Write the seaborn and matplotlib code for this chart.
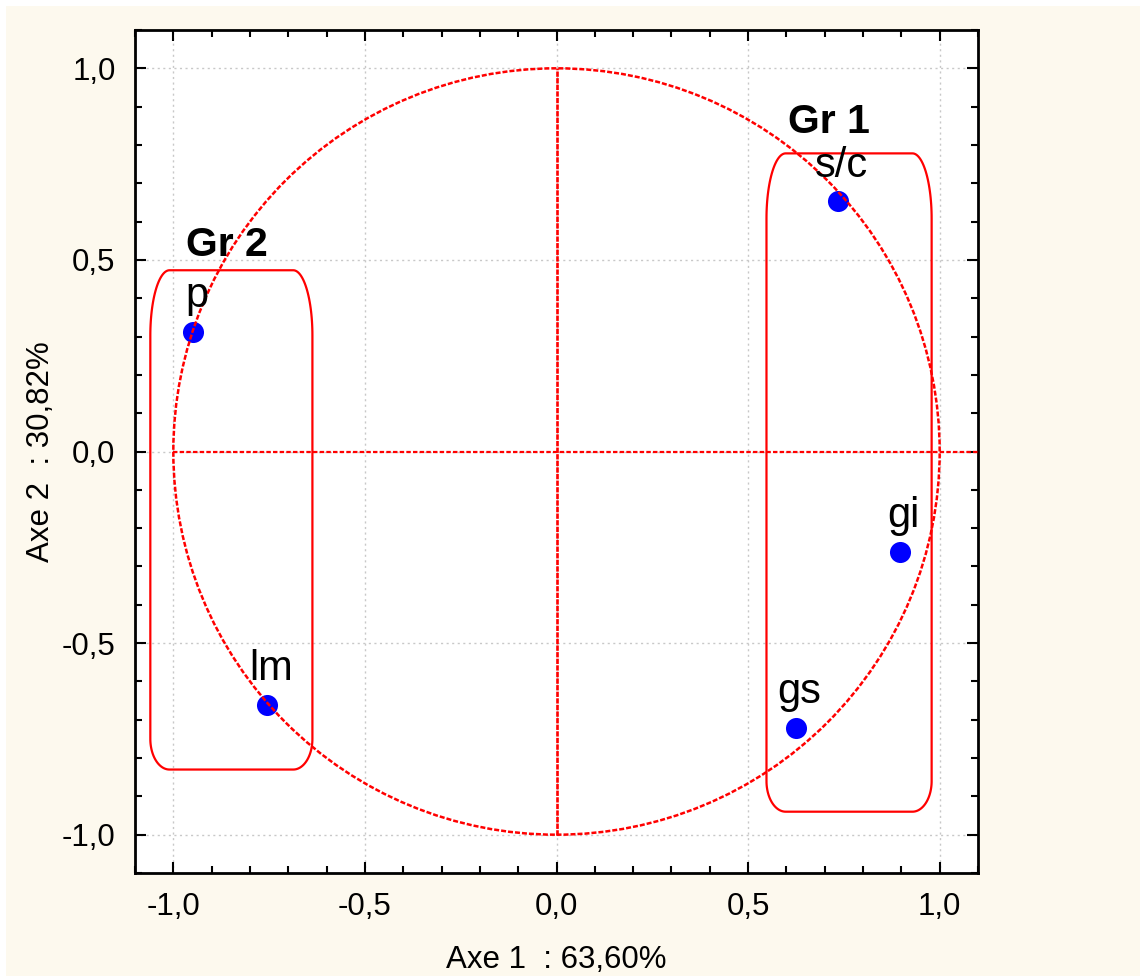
import numpy as np
import pandas as pd
import matplotlib
matplotlib.use("Agg")
import matplotlib.pyplot as plt
import seaborn as sns
from matplotlib.path import Path
from matplotlib.patches import PathPatch, Rectangle, Circle
from matplotlib.ticker import MultipleLocator, FuncFormatter

# ---- data ----
variables = ["p", "lm", "s/c", "gi", "gs"]
axe1 = [-0.948, -0.755, 0.734, 0.896, 0.624]
axe2 = [0.313, -0.661, 0.653, -0.261, -0.721]
groups = ["Gr 2", "Gr 1"]
group_label_x = [-0.86, 0.71]
group_label_y = [0.54, 0.86]
group_box_x = [(-1.06, -0.637), (0.548, 0.979)]
group_box_y = [(-0.830, 0.473), (-0.940, 0.778)]
xlabel = "Axe 1  : 63,60%"
ylabel = "Axe 2  : 30,82%"

df = pd.DataFrame({"var": variables, "x": axe1, "y": axe2})

sns.set_style("ticks")
plt.rcParams["font.family"] = ["Liberation Sans", "DejaVu Sans"]
plt.rcParams["text.color"] = "black"
plt.rcParams["axes.labelcolor"] = "black"
plt.rcParams["xtick.color"] = "black"
plt.rcParams["ytick.color"] = "black"

fig = plt.figure(figsize=(11.4, 9.76), dpi=100)
fig.patch.set_facecolor("white")
fig.patches.append(Rectangle((6 / 1140, 0), 1, 1 - 6 / 976, transform=fig.transFigure,
                             facecolor="#FDF9EE", edgecolor="none", zorder=-10))
ax = fig.add_axes([135 / 1140, 1 - 873 / 976, (978 - 135) / 1140, (873 - 30) / 976])
ax.set_facecolor("white")
ax.set_xlim(-1.1, 1.1)
ax.set_ylim(-1.1, 1.1)

ax.xaxis.set_major_locator(MultipleLocator(0.5))
ax.yaxis.set_major_locator(MultipleLocator(0.5))
ax.xaxis.set_minor_locator(MultipleLocator(0.1))
ax.yaxis.set_minor_locator(MultipleLocator(0.1))
fmt = FuncFormatter(lambda v, p: f"{v:.1f}".replace(".", ",").replace("-0,0", "0,0"))
ax.xaxis.set_major_formatter(fmt)
ax.yaxis.set_major_formatter(fmt)
ax.grid(True, which="major", color="#C8C8C8", linestyle=(0, (1.5, 2.5)), linewidth=1.0, zorder=0)
ax.tick_params(which="both", direction="in", top=True, right=True, width=1.5, colors="black",
               labelsize=22.5)
ax.tick_params(which="major", length=8, pad=14)
ax.tick_params(which="minor", length=5)
for s in ax.spines.values():
    s.set_linewidth(2)
    s.set_color("black")

# circle and axes lines
red = "#FF0000"
ax.add_patch(Circle((0, 0), 1.0, fill=False, edgecolor=red, linestyle=(0, (2, 0.8)),
                    linewidth=1.8, zorder=4))
ax.plot([-1.0, 1.1], [0, 0], color=red, linestyle=(0, (2, 1)), linewidth=1.6, zorder=4)
ax.plot([0, 0], [-1.0, 1.0], color=red, linestyle=(0, (2, 0.5)), linewidth=1.9, zorder=4)

# points
sns.scatterplot(data=df, x="x", y="y", ax=ax, color="#0000FF", s=230, edgecolor="#0000FF",
                linewidth=0, zorder=3)
for v, x, y in zip(variables, axe1, axe2):
    ax.text(x + 0.01, y + 0.04, v, fontsize=30, ha="center", va="bottom", zorder=5)

# group boxes with rounded elliptical corners
def rounded_box(x0, x1, y0, y1, rx, ry_top, ry_bot, n=30):
    t = np.linspace(0, np.pi / 2, n)
    pts = []
    pts += [(x0 + rx - rx * np.sin(a), y0 + ry_bot - ry_bot * np.cos(a)) for a in t[::-1]]
    pts += [(x1 - rx + rx * np.sin(a), y0 + ry_bot - ry_bot * np.cos(a)) for a in t]
    pts += [(x1 - rx + rx * np.sin(a), y1 - ry_top + ry_top * np.cos(a)) for a in t[::-1]]
    pts += [(x0 + rx - rx * np.sin(a), y1 - ry_top + ry_top * np.cos(a)) for a in t]
    pts.append(pts[0])
    return Path(pts)

for (bx0, bx1), (by0, by1) in zip(group_box_x, group_box_y):
    ax.add_patch(PathPatch(rounded_box(bx0, bx1, by0, by1, 0.05, 0.17, 0.08),
                           fill=False, edgecolor=red, linewidth=1.6, zorder=2))

for g, gx, gy in zip(groups, group_label_x, group_label_y):
    ax.text(gx, gy, g, fontsize=29.5, fontweight="bold", ha="center", va="center", zorder=5)

ax.set_xlabel(xlabel, fontsize=22.5, labelpad=16)
ax.set_ylabel(ylabel, fontsize=22.5, labelpad=4)

fig.savefig("out.png", dpi=100, facecolor=fig.get_facecolor())
